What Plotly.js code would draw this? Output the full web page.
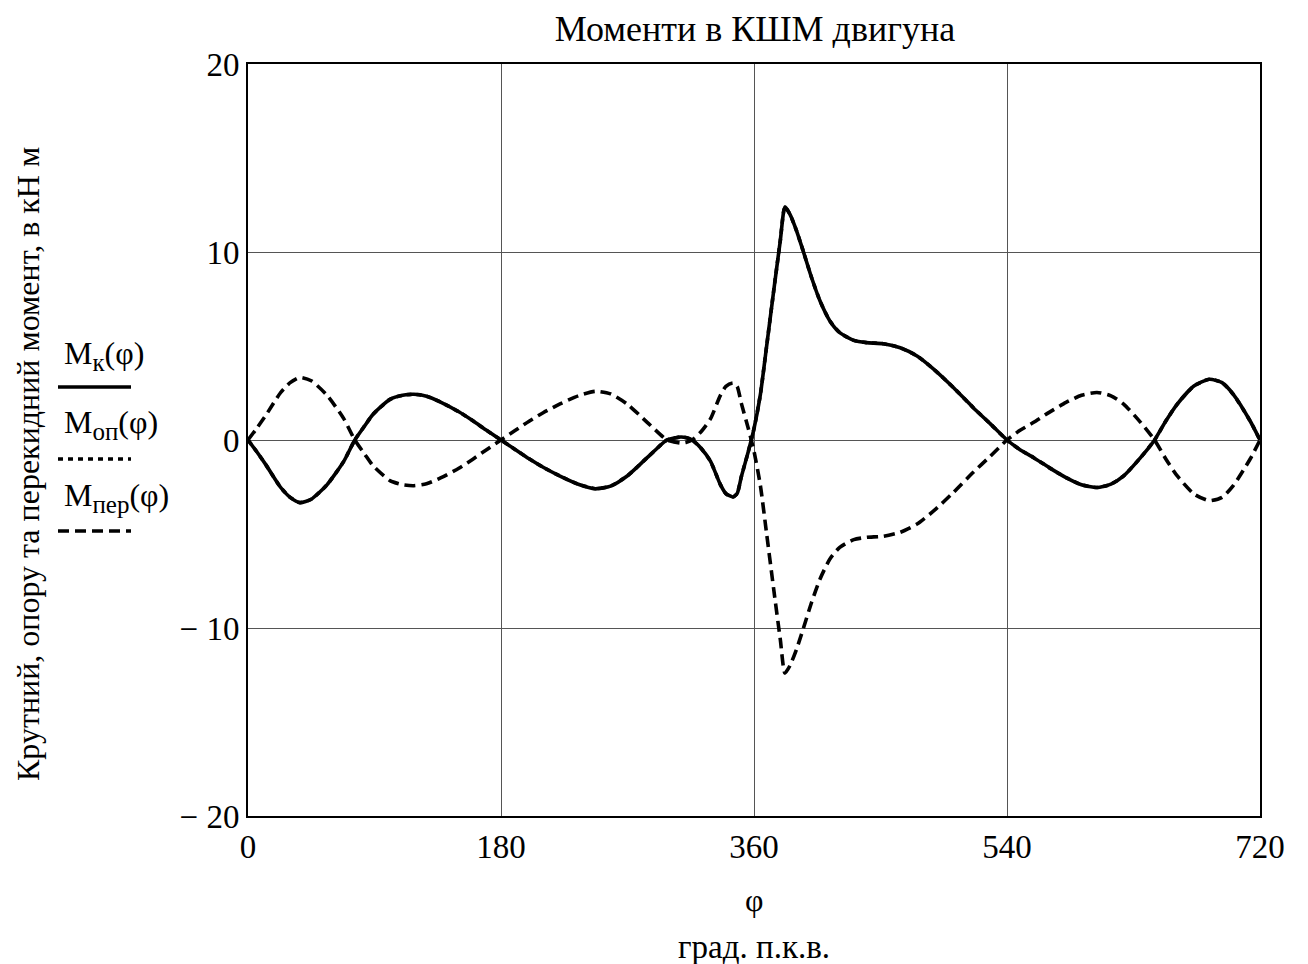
<!DOCTYPE html>
<html>
<head>
<meta charset="utf-8">
<script src="https://cdn.plot.ly/plotly-3.0.1.min.js"></script>
<style>html,body{margin:0;padding:0;background:#fff;}#chart{width:1308px;height:964px;}</style>
</head>
<body>
<div id="chart"></div>
<script>
// crank angle, degrees
const phi = [0, 6, 13, 23, 30, 37, 45, 56, 68, 76, 83, 89, 101, 110, 118, 127, 137, 150, 160, 170, 180,
  190, 200, 210, 222, 235, 247, 258, 270, 284, 298, 303, 308, 312, 316, 322, 329, 336, 340, 345, 348, 351, 356, 360,
  364.5, 369, 374, 378.7, 382, 385.6, 390.4, 395, 401, 407, 414, 421, 431, 440, 452, 464, 476, 488, 502, 516, 528, 540,
  549, 559, 570, 582, 593, 604, 614, 623, 635, 645, 653, 661, 673, 684, 693, 701, 713, 720];

// torque M_k, kN·m
const mK = [0, -0.6, -1.35, -2.5, -3.05, -3.33, -3.15, -2.4, -1.15, 0, 0.75, 1.37, 2.16, 2.38, 2.43, 2.33, 2.02, 1.5, 1.02, 0.5, 0,
  -0.5, -1.0, -1.45, -1.92, -2.35, -2.59, -2.45, -1.9, -0.94, 0, 0.1, 0.16, 0.12, 0, -0.41, -1.12, -2.36, -2.85, -3.03, -2.85, -1.95, -0.6, 0.6,
  2.4, 5.0, 7.93, 10.6, 12.4, 12.0, 11.1, 10.05, 8.63, 7.39, 6.33, 5.71, 5.3, 5.18, 5.12, 4.91, 4.47, 3.76, 2.78, 1.72, 0.87, 0,
  -0.5, -0.94, -1.47, -2.0, -2.38, -2.53, -2.35, -1.91, -0.94, 0, 1.01, 1.9, 2.87, 3.23, 3.05, 2.43, 1.01, 0];

// support reaction moment M_op, kN·m (drawn under M_k)
const mOp = [0, -0.6, -1.35, -2.5, -3.05, -3.33, -3.15, -2.4, -1.15, 0, 0.75, 1.37, 2.16, 2.38, 2.43, 2.33, 2.02, 1.5, 1.02, 0.5, 0,
  -0.5, -1.0, -1.45, -1.92, -2.35, -2.59, -2.45, -1.9, -0.94, 0, 0.1, 0.16, 0.12, 0, -0.41, -1.12, -2.36, -2.85, -3.03, -2.85, -1.95, -0.6, 0.6,
  2.4, 5.0, 7.93, 10.6, 12.4, 12.0, 11.1, 10.05, 8.63, 7.39, 6.33, 5.71, 5.3, 5.18, 5.12, 4.91, 4.47, 3.76, 2.78, 1.72, 0.87, 0,
  -0.5, -0.94, -1.47, -2.0, -2.38, -2.53, -2.35, -1.91, -0.94, 0, 1.01, 1.9, 2.87, 3.23, 3.05, 2.43, 1.01, 0];

// overturning moment M_per, kN·m
const mPer = [0, 0.6, 1.35, 2.5, 3.05, 3.33, 3.15, 2.4, 1.15, 0, -0.75, -1.37, -2.16, -2.38, -2.43, -2.33, -2.02, -1.5, -1.02, -0.5, 0,
  0.5, 1.0, 1.45, 1.92, 2.35, 2.59, 2.45, 1.9, 0.94, 0, -0.1, -0.16, -0.12, 0, 0.41, 1.12, 2.36, 2.85, 3.03, 2.85, 1.95, 0.6, -0.6,
  -2.4, -5.0, -7.93, -10.6, -12.4, -12.0, -11.1, -10.05, -8.63, -7.39, -6.33, -5.71, -5.3, -5.18, -5.12, -4.91, -4.47, -3.76, -2.78, -1.72, -0.87, 0,
  0.5, 0.94, 1.47, 2.0, 2.38, 2.53, 2.35, 1.91, 0.94, 0, -1.01, -1.9, -2.87, -3.23, -3.05, -2.43, -1.01, 0];

const xTickVals = [0, 180, 360, 540, 720];
const xTickText = ['0', '180', '360', '540', '720'];
const yTickVals = [-20, -10, 0, 10, 20];
const yTickText = ['\u2212 20', '\u2212 10', '0', '10', '20'];

const titleText = 'Моменти в КШМ двигуна';
const yTitleText = 'Крутний, опору та перекидний момент, в кН м';
const xTitleSymbol = 'φ';
const xTitleUnits = 'град. п.к.в.';
const legendNames = ['к', 'оп', 'пер'];

const FONT = 'Liberation Serif, Times New Roman, serif';
const W = 1308, H = 964;
const M = {l: 248, r: 48, t: 64, b: 148};
const PW = W - M.l - M.r, PH = H - M.t - M.b;
const px = v => (v - M.l) / PW;
const py = v => (H - M.b - v) / PH;

const lineW = 3.6;
const traces = [
  {x: phi, y: mK, mode: 'lines', line: {color: '#000', width: lineW, shape: 'spline', smoothing: 0.6}, name: 'Mk'},
  {x: phi, y: mOp, mode: 'lines', line: {color: '#000', width: lineW, dash: '5px,5px', shape: 'spline', smoothing: 0.6}, name: 'Mop'},
  {x: phi, y: mPer, mode: 'lines', line: {color: '#000', width: lineW, dash: '11px,6px', shape: 'spline', smoothing: 0.6}, name: 'Mper'}
];

const legendStyles = [
  {dash: 'solid', y: 387, ty: 355},
  {dash: '5px,5px', y: 459, ty: 424},
  {dash: '11px,6px', y: 531, ty: 497}
];

const annotations = [
  {text: yTitleText, xref: 'paper', yref: 'paper', x: px(28), y: py(464), textangle: -90, showarrow: false,
   xanchor: 'center', yanchor: 'middle', font: {family: FONT, size: 32, color: '#000'}},
  {text: xTitleSymbol, xref: 'paper', yref: 'paper', x: px(754), y: py(900), showarrow: false,
   xanchor: 'center', yanchor: 'middle', font: {family: FONT, size: 32, color: '#000'}},
  {text: xTitleUnits, xref: 'paper', yref: 'paper', x: px(754), y: py(947), showarrow: false,
   xanchor: 'center', yanchor: 'middle', font: {family: FONT, size: 33, color: '#000'}}
];
const shapes = [];
legendStyles.forEach((s, i) => {
  annotations.push({text: 'M<sub><span style="font-size:25px">' + legendNames[i] + '</span></sub>(φ)',
    xref: 'paper', yref: 'paper', x: px(62), y: py(s.ty), showarrow: false,
    xanchor: 'left', yanchor: 'middle', font: {family: FONT, size: 32, color: '#000'}});
  shapes.push({type: 'line', xref: 'paper', yref: 'paper', x0: px(58), x1: px(131), y0: py(s.y), y1: py(s.y),
    line: {color: '#000', width: lineW, dash: s.dash}});
});

const layout = {
  width: W, height: H,
  margin: M,
  paper_bgcolor: '#fff', plot_bgcolor: '#fff',
  showlegend: false,
  title: {text: titleText, xref: 'paper', x: px(755), xanchor: 'center', yref: 'container', y: 1 - 28 / H, yanchor: 'middle',
    font: {family: FONT, size: 36, color: '#000'}},
  font: {family: FONT, color: '#000'},
  xaxis: {range: [0, 720], tickvals: xTickVals, ticktext: xTickText, showgrid: true, gridcolor: '#555', gridwidth: 1,
    zeroline: false, showline: true, linecolor: '#000', linewidth: 2, mirror: true, ticks: '', ticklabelstandoff: 0,
    tickfont: {family: FONT, size: 33, color: '#000'}, fixedrange: true},
  yaxis: {range: [-20, 20], tickvals: yTickVals, ticktext: yTickText, showgrid: true, gridcolor: '#555', gridwidth: 1,
    zeroline: true, zerolinecolor: '#555', zerolinewidth: 1, showline: true, linecolor: '#000', linewidth: 2, mirror: true,
    ticks: '', ticklabelstandoff: 0, tickfont: {family: FONT, size: 33, color: '#000'}, fixedrange: true},
  annotations: annotations,
  shapes: shapes
};

Plotly.newPlot('chart', traces, layout, {displayModeBar: false, staticPlot: true});
</script>
</body>
</html>
